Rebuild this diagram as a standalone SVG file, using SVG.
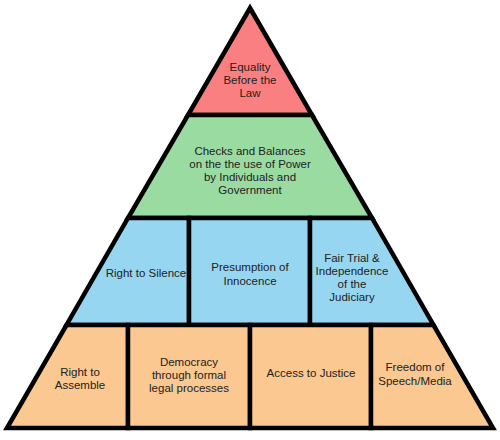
<svg xmlns="http://www.w3.org/2000/svg" width="500" height="440" viewBox="0 0 500 440">
<style>
.seg{stroke:#000;stroke-width:4.5;stroke-linejoin:miter}
.red{fill:#FA7F80}.green{fill:#9ADBA2}.blue{fill:#96D6F0}.orange{fill:#FAC890}
text{font-family:"Liberation Sans",Arial,sans-serif;font-size:11.5px;fill:#222;text-anchor:middle}
</style>
<rect width="500" height="440" fill="#fff"/>
<g id="equality">
<polygon class="seg red" points="250,8 312,115 188,115"/>
<text x="250" y="71">Equality</text><text x="250" y="84">Before the</text><text x="250" y="97">Law</text>
</g>
<g id="checks">
<polygon class="seg green" points="188,115 312,115 372,218 128,218"/>
<text x="250" y="155">Checks and Balances</text><text x="250" y="168">on the the use of Power</text><text x="250" y="181">by Individuals and</text><text x="250" y="194">Government</text>
</g>
<g id="silence">
<polygon class="seg blue" points="128,218 189,218 189,325 66.5,325"/>
<text x="146" y="277">Right to Silence</text>
</g>
<g id="presumption">
<polygon class="seg blue" points="189,218 310,218 310,325 189,325"/>
<text x="250" y="271">Presumption of</text><text x="250" y="285">Innocence</text>
</g>
<g id="fairtrial">
<polygon class="seg blue" points="310,218 372,218 433.5,325 310,325"/>
<text x="352" y="262">Fair Trial &amp;</text><text x="352" y="275">Independence</text><text x="352" y="288">of the</text><text x="352" y="301">Judiciary</text>
</g>
<g id="assemble">
<polygon class="seg orange" points="66.5,325 128,325 128,428 7,428"/>
<text x="80" y="376">Right to</text><text x="80" y="389">Assemble</text>
</g>
<g id="democracy">
<polygon class="seg orange" points="128,325 250,325 250,428 128,428"/>
<text x="189" y="366">Democracy</text><text x="189" y="379">through formal</text><text x="189" y="392">legal processes</text>
</g>
<g id="justice">
<polygon class="seg orange" points="250,325 371,325 371,428 250,428"/>
<text x="311" y="377">Access to Justice</text>
</g>
<g id="speech">
<polygon class="seg orange" points="371,325 433.5,325 493,428 371,428"/>
<text x="415" y="371">Freedom of</text><text x="415" y="385">Speech/Media</text>
</g>
<g id="connectors"></g>
</svg>
